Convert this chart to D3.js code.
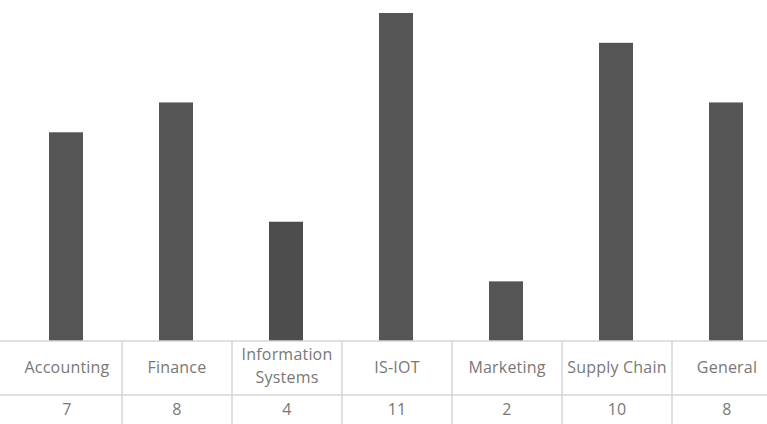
<!DOCTYPE html>
<html>
<head>
<meta charset="utf-8">
<script src="https://cdn.jsdelivr.net/npm/d3@7"></script>
<style>
  body { margin: 0; background: #fff; }
  svg { display: block; }
  .cell text { font-family: "Open Sans", sans-serif; font-size: 16px; fill: #787878; letter-spacing: 0.2px; }
</style>
</head>
<body>
<svg id="chart" width="767" height="424"></svg>
<script>
// chart data

var categories = ["Accounting", "Finance", "Information Systems", "IS-IOT", "Marketing", "Supply Chain", "General"];
var labelLines = [["Accounting"], ["Finance"], ["Information", "Systems"], ["IS-IOT"], ["Marketing"], ["Supply Chain"], ["General"]];
var counts = [7, 8, 4, 11, 2, 10, 8];

// layout

var width = 767, height = 424;
var baseY = 341, rowY = 395, maxV = 11;

var svg = d3.select("#chart");

var x = d3.scaleBand()
  .domain(categories)
  .range([12, 782]);

var y = d3.scaleLinear()
  .domain([0, maxV])
  .range([baseY, 13]);

var barW = 34;

// bars

svg.selectAll("rect.bar")
  .data(counts)
  .enter()
  .append("rect")
  .attr("class", "bar")
  .attr("x", function (d, i) { return x(categories[i]) + x.bandwidth() / 2 - barW / 2 - 1; })
  .attr("y", function (d) { return y(d); })
  .attr("width", barW)
  .attr("height", function (d) { return baseY - y(d); })
  .attr("fill", function (d, i) { return i == 2 ? "#4d4d4d" : "#555555"; });

// data table lines

var lineColor = "#d6d6d6";

svg.append("line")
  .attr("x1", 0).attr("x2", width)
  .attr("y1", baseY).attr("y2", baseY)
  .attr("stroke", lineColor).attr("stroke-width", 1.5);

svg.append("line")
  .attr("x1", 0).attr("x2", width)
  .attr("y1", rowY).attr("y2", rowY)
  .attr("stroke", lineColor).attr("stroke-width", 1.5);

svg.selectAll("line.sep")
  .data(categories.slice(1))
  .enter()
  .append("line")
  .attr("class", "sep")
  .attr("x1", function (d) { return x(d); })
  .attr("x2", function (d) { return x(d); })
  .attr("y1", baseY).attr("y2", height)
  .attr("stroke", lineColor).attr("stroke-width", 1.5);

// category labels and values

var cell = svg.selectAll("g.cell")
  .data(categories)
  .enter()
  .append("g")
  .attr("class", "cell")
  .attr("transform", function (d) { return "translate(" + (x(d) + x.bandwidth() / 2) + ",0)"; });

cell.append("text")
  .attr("text-anchor", "middle")
  .each(function (d, i) {
    var lines = labelLines[i];
    var t = d3.select(this);
    var startY = 373 - (lines.length - 1) * 13;
    lines.forEach(function (s, j) {
      t.append("tspan").attr("x", 0).attr("y", startY + j * 23).text(s);
    });
  });

cell.append("text")
  .attr("text-anchor", "middle")
  .attr("y", 415)
  .text(function (d, i) { return counts[i]; });
</script>
</body>
</html>
